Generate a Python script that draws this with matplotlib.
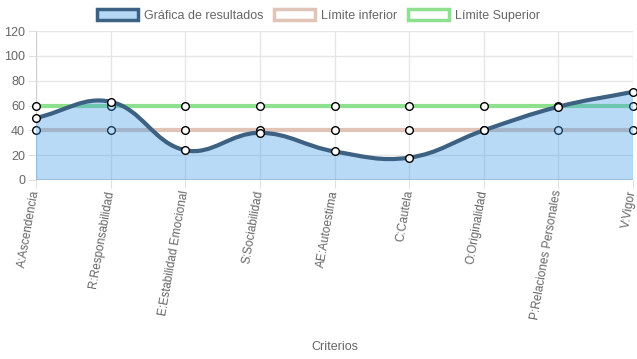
import numpy as np
import matplotlib
matplotlib.use("Agg")
import matplotlib.pyplot as plt
from matplotlib.path import Path
from matplotlib.patches import PathPatch, Patch

categories = ["A:Ascendencia", "R:Responsabilidad", "E:Estabilidad Emocional",
              "S:Sociabilidad", "AE:Autoestima", "C:Cautela", "O:Originalidad",
              "P:Relaciones Personales", "V:Vigor"]
resultados = [50, 63, 24, 38, 23, 18, 40, 59, 71]
limite_inferior = [40, 40, 40, 40, 40, 40, 40, 40, 40]
limite_superior = [60, 60, 60, 60, 60, 60, 60, 60, 60]
y_ticks = [0, 20, 40, 60, 80, 100, 120]

plt.rcParams['font.family'] = ['Liberation Sans', 'DejaVu Sans']
W, H = 637, 359
fig = plt.figure(figsize=(W / 100, H / 100), dpi=100)
x0, x1, ytop, ybot = 36, 633, 31, 180
ax = fig.add_axes([x0 / W, 1 - ybot / H, (x1 - x0) / W, (ybot - ytop) / H])
n = len(categories)
xs = np.arange(n)
ax.set_xlim(0, n - 1)
ax.set_ylim(0, 120)

# pixel scales for Chart.js-like spline
sx = (x1 - x0) / (n - 1)
sy = (ybot - ytop) / 120.0


def spline_path(xv, yv, t=0.4):
    px = np.array(xv, float) * sx
    py = np.array(yv, float) * sy
    m = len(px)
    cp_prev = []
    cp_next = []
    for i in range(m):
        pi = max(i - 1, 0)
        ni = min(i + 1, m - 1)
        d01 = np.hypot(px[i] - px[pi], py[i] - py[pi])
        d12 = np.hypot(px[ni] - px[i], py[ni] - py[i])
        s01 = d01 / (d01 + d12) if d01 + d12 else 0
        s12 = d12 / (d01 + d12) if d01 + d12 else 0
        fa, fb = t * s01, t * s12
        dx, dy = px[ni] - px[pi], py[ni] - py[pi]
        cp_prev.append((px[i] - fa * dx, py[i] - fa * dy))
        cp_next.append((px[i] + fb * dx, py[i] + fb * dy))
    verts = [(px[0], py[0])]
    codes = [Path.MOVETO]
    for i in range(1, m):
        verts += [cp_next[i - 1], cp_prev[i], (px[i], py[i])]
        codes += [Path.CURVE4] * 3
    verts = [(vx / sx, vy / sy) for vx, vy in verts]
    return verts, codes


# grid
for v in y_ticks[1:]:
    ax.axhline(v, color='#e6e6e6', lw=1, zorder=0)
for xv in xs[1:]:
    ax.axvline(xv, color='#e6e6e6', lw=1, zorder=0)
for s in ax.spines.values():
    s.set_visible(False)
ax.axhline(0, color='#d0d0d0', lw=2, zorder=1)
ax.axvline(0, color='#d0d0d0', lw=1, zorder=1)

ax.plot(xs, limite_inferior, color='#e0c4b8', lw=3, zorder=2,
        marker='o', ms=5.5, mfc='white', mec='black', mew=1, clip_on=False)
ax.plot(xs, limite_superior, color='#8ee08e', lw=3, zorder=2,
        marker='o', ms=5.5, mfc='white', mec='black', mew=1, clip_on=False)

verts, codes = spline_path(xs, resultados)
fill_verts = verts + [(xs[-1], 0), (xs[0], 0), verts[0]]
fill_codes = codes + [Path.LINETO, Path.LINETO, Path.CLOSEPOLY]
ax.add_patch(PathPatch(Path(fill_verts, fill_codes), facecolor='#3a9ae8', alpha=0.36,
                       edgecolor='none', zorder=3))
ax.add_patch(PathPatch(Path(verts, codes), facecolor='none', edgecolor='#3d6182',
                       lw=3, zorder=4, capstyle='round', joinstyle='round'))
ax.plot(xs, resultados, ls='none', marker='o', ms=5.5, mfc='white', mec='black',
        mew=1, zorder=5, clip_on=False)

ax.set_xticks(xs)
ax.set_xticklabels(categories, rotation=80, ha='right', va='center',
                   rotation_mode='anchor', fontsize=8.5, color='#666666')
ax.set_yticks(y_ticks)
ax.set_yticklabels([str(v) for v in y_ticks], fontsize=9, color='#666666')
ax.tick_params(axis='x', length=6, color='#e0e0e0', pad=1.5)
ax.tick_params(axis='y', length=5.8, color='#e0e0e0', pad=2)
ax.set_xlabel('Criterios', fontsize=9, color='#666666')
ax.xaxis.set_label_coords(0.5, (ybot - 341) / (ybot - ytop), transform=ax.transAxes)

handles = [Patch(facecolor='#b5d8f5', edgecolor='#3d6182', lw=2.5),
           Patch(facecolor='white', edgecolor='#e0c4b8', lw=2.5),
           Patch(facecolor='white', edgecolor='#8ee08e', lw=2.5)]
fig.legend(handles, ['Gráfica de resultados', 'Límite inferior', 'Límite Superior'],
           loc='upper center', bbox_to_anchor=(0.5, 1.005), ncol=3, frameon=False,
           fontsize=9, handlelength=3.3, handleheight=0.9, columnspacing=0.8,
           handletextpad=0.5, labelcolor='#666666')

fig.savefig('out.png', dpi=100)
